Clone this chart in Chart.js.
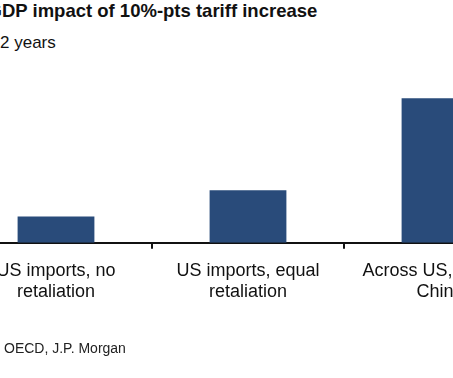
<!DOCTYPE html>
<html>
<head>
<meta charset="utf-8">
<script src="https://cdn.jsdelivr.net/npm/chart.js@4"></script>
<style>
  html, body { margin: 0; padding: 0; width: 453px; height: 378px; overflow: hidden; background: #fff; }
  body { position: relative; font-family: Arial, "Liberation Sans", sans-serif; color: #111; }
  .line { position: absolute; white-space: nowrap; }
  .line .cut { position: absolute; right: 100%; top: 0; }
  .title { left: 2px; top: 0px; font-size: 18.5px; font-weight: bold; line-height: 22px; }
  .subtitle { left: 0px; top: 32px; font-size: 17px; line-height: 22px; }
  .source { left: 4px; top: 339px; font-size: 14px; line-height: 18px; color: #222; }
  .wrap { position: absolute; left: -60px; top: 0; width: 640px; height: 378px; }
</style>
</head>
<body>
<div class="line title"><span class="cut">G</span>DP impact of 10%-pts tariff increase</div>
<div class="line subtitle"><span class="cut">% change in GDP level, after&nbsp;</span>2 years</div>
<div class="wrap"><canvas id="chart" width="640" height="378"></canvas></div>
<div class="line source"><span class="cut">Source:&nbsp;</span>OECD, J.P. Morgan</div>
<script>
const categories = [
  ['US imports, no', 'retaliation'],
  ['US imports, equal', 'retaliation'],
  ['Across US, EU and', 'China']
];
const gdpImpact = [0.1, 0.2, 0.55];

const ctx = document.getElementById('chart').getContext('2d');
new Chart(ctx, {
  type: 'bar',
  data: {
    labels: categories,
    datasets: [{
      label: 'GDP impact',
      data: gdpImpact,
      backgroundColor: '#294b7a',
      borderWidth: 0,
      categoryPercentage: 1,
      barPercentage: 0.4
    }]
  },
  options: {
    responsive: false,
    devicePixelRatio: 1,
    animation: false,
    layout: { padding: { left: 20, right: 44, top: 70, bottom: 64 } },
    plugins: {
      legend: { display: false },
      tooltip: { enabled: false }
    },
    scales: {
      x: {
        offset: true,
        grid: {
          offset: true,
          drawOnChartArea: false,
          drawTicks: true,
          tickLength: 6,
          color: '#111',
          lineWidth: 2
        },
        border: { display: true, color: '#111', width: 2 },
        ticks: {
          color: '#111',
          padding: 11,
          maxRotation: 0,
          autoSkip: false,
          font: { family: 'Arial, "Liberation Sans", sans-serif', size: 18, lineHeight: 1.2 }
        }
      },
      y: {
        display: false,
        min: 0,
        max: 0.657
      }
    }
  }
});
</script>
</body>
</html>
